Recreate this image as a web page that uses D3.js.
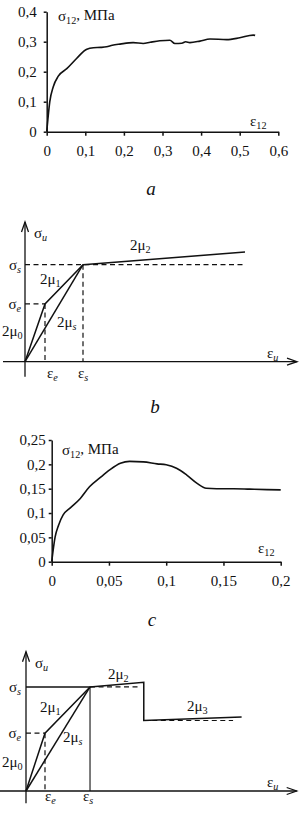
<!DOCTYPE html>
<html>
<head>
<meta charset="utf-8">
<script src="https://cdn.jsdelivr.net/npm/d3@7"></script>
<style>
  body { margin: 0; background: #fff; }
  .axis path, .axis line { stroke: #111; stroke-width: 1.5; }
</style>
</head>
<body>
<svg id="chart" width="307" height="813"></svg>
<script>
const SERIF = "'Liberation Serif', 'Times New Roman', 'DejaVu Serif', serif"

// panel a: shear stress vs shear strain
const aStrain = [0, 0.003, 0.008, 0.017, 0.03, 0.052, 0.078, 0.095, 0.104, 0.121, 0.14, 0.155, 0.17, 0.19, 0.224, 0.25, 0.268, 0.293, 0.319, 0.332, 0.35, 0.36, 0.371, 0.397, 0.423, 0.466, 0.5, 0.535, 0.54]
const aStress = [0, 0.04, 0.1, 0.15, 0.185, 0.21, 0.245, 0.267, 0.275, 0.28, 0.281, 0.283, 0.288, 0.292, 0.297, 0.294, 0.298, 0.303, 0.305, 0.294, 0.295, 0.3, 0.297, 0.302, 0.309, 0.307, 0.313, 0.322, 0.321]
const aTicksX = [0, 0.1, 0.2, 0.3, 0.4, 0.5, 0.6]
const aTicksY = [0, 0.1, 0.2, 0.3, 0.4]

// panel c
const cStrain = [0, 0.003, 0.006, 0.01, 0.016, 0.025, 0.033, 0.042, 0.051, 0.06, 0.068, 0.08, 0.092, 0.1, 0.109, 0.118, 0.127, 0.135, 0.144, 0.159, 0.173, 0.188, 0.2]
const cStress = [0, 0.051, 0.075, 0.096, 0.11, 0.13, 0.154, 0.172, 0.189, 0.202, 0.206, 0.205, 0.201, 0.199, 0.192, 0.178, 0.161, 0.151, 0.15, 0.15, 0.149, 0.148, 0.1475]
const cTicksX = [0, 0.05, 0.1, 0.15, 0.2]
const cTicksY = [0, 0.05, 0.1, 0.15, 0.2, 0.25]

// schematic b (units: eps_e = 1, sigma_e = 1)
const bLoad = [[0, 0], [1, 1], [2.9, 1.68]]
const bSecant = [[0, 0], [2.9, 1.68]]
const bHard = [[2.9, 1.68], [11, 1.9]]
const bMarks = {ee: 1, es: 2.9, se: 1, ss: 1.68, end: 11}

// schematic d
const dLoad = [[0, 0], [1, 1], [3.37, 1.8]]
const dSecant = [[0, 0], [3.37, 1.8]]
const dHard = [[3.37, 1.8], [6.2, 1.88], [6.2, 1.22], [11.35, 1.28]]
const dMarks = {ee: 1, es: 3.37, se: 1, ss: 1.8, drop: 6.2, s3: 1.22, end3: 10.9, end2: 6.05}

const svg = d3.select("#chart").attr("font-family", SERIF)
const comma = d => String(d).replace(".", ",")

function txt(px, py, size) {
  return svg.append("text").attr("x", px).attr("y", py)
    .attr("font-size", size).attr("font-family", SERIF).attr("fill", "#111")
}

function sub(sel, main, s, italicSub) {
  sel.append("tspan").text(main)
  sel.append("tspan")
    .attr("font-size", "0.68em")
    .attr("dy", "0.3em")
    .attr("font-style", italicSub ? "italic" : null)
    .text(s)
}

function curvePanel(xs, ys, tx, ty, xr, yr, ypad) {
  let x = d3.scaleLinear().domain([tx[0], tx[tx.length - 1]]).range(xr)
  let y = d3.scaleLinear().domain([ty[0], ty[ty.length - 1]]).range(yr)
  let gx = svg.append("g").attr("class", "axis")
    .attr("transform", `translate(0,${yr[0]})`)
    .call(d3.axisBottom(x).tickValues(tx).tickSize(4).tickPadding(10).tickFormat(comma).tickSizeOuter(0))
  let gy = svg.append("g").attr("class", "axis")
    .attr("transform", `translate(${xr[0]},0)`)
    .call(d3.axisLeft(y).tickValues(ty).tickSize(3).tickPadding(ypad).tickFormat(comma).tickSizeOuter(0))
  ;[gx, gy].forEach(g => {
    g.attr("font-family", SERIF).attr("font-size", 15)
    g.selectAll("text").attr("fill", "#111").attr("font-family", SERIF)
  })
  let line = d3.line().x((d, i) => x(xs[i])).y((d, i) => y(ys[i])).curve(d3.curveMonotoneX)
  svg.append("path").datum(xs)
    .attr("d", line)
    .attr("fill", "none").attr("stroke", "#111").attr("stroke-width", 1.6)
  return {x, y}
}

// ---- panel a
let A = curvePanel(aStrain, aStress, aTicksX, aTicksY, [46.7, 278.3], [131.7, 11.7], 7)
txt(58, 21, 15).call(t => { sub(t, "σ", "12"); t.append("tspan").attr("dy", "-0.3em").text(", МПа") })
txt(250, 126, 15).call(t => sub(t, "ε", "12"))
txt(151, 195, 19).attr("font-style", "italic").attr("text-anchor", "middle").text("a")

// ---- panel c
let C = curvePanel(cStrain, cStress, cTicksX, cTicksY, [51.7, 280.7], [561.7, 440], 3)
txt(62, 455, 15).call(t => { sub(t, "σ", "12"); t.append("tspan").attr("dy", "-0.3em").text(", МПа") })
txt(258, 553, 15).call(t => sub(t, "ε", "12"))
txt(155, 413, 19).attr("font-style", "italic").attr("text-anchor", "middle").text("b")
txt(152, 626, 19).attr("font-style", "italic").attr("text-anchor", "middle").text("c")

// ---- schematic helpers
function arrows(g, x, y, xmin, xmax, ymin, ymax) {
  let path = d3.line()
  const put = (pts) => g.append("path").attr("d", path(pts))
    .attr("stroke", "#111").attr("stroke-width", 1.3).attr("fill", "none")
  put([[x(xmin), y(0)], [x(xmax), y(0)]])
  put([[x(0), y(ymin)], [x(0), y(ymax)]])
  put([[x(xmax) - 10, y(0) - 3.5], [x(xmax), y(0)], [x(xmax) - 10, y(0) + 3.5]])
  put([[x(0) - 3.5, y(ymax) + 10], [x(0), y(ymax)], [x(0) + 3.5, y(ymax) + 10]])
}

function seg(g, x, y, pts, opts) {
  g.append("path")
    .attr("d", d3.line().x(d => x(d[0])).y(d => y(d[1]))(pts))
    .attr("fill", "none").attr("stroke", "#111")
    .attr("stroke-width", opts.w || 1.5)
    .attr("stroke-dasharray", opts.dash ? "5,3.5" : null)
}

function lab(px, py, main, s, anchor) {
  let t = txt(px, py, 15).attr("text-anchor", anchor || "start")
  sub(t, main, s, isNaN(+s))
}

// ---- schematic b
{
  let g = svg.append("g")
  let x = d3.scaleLinear().domain([0, 13.6]).range([25, 297])
  let y = d3.scaleLinear().domain([0, 2.42]).range([361.7, 222])
  let m = bMarks
  arrows(g, x, y, -1.1, 13.6, -0.26, 2.42)
  seg(g, x, y, [[0, m.ss], [m.end, m.ss]], {dash: true, w: 1.2})
  seg(g, x, y, [[0, m.se], [m.ee, m.se]], {dash: true, w: 1.2})
  seg(g, x, y, [[m.ee, m.se], [m.ee, 0]], {dash: true, w: 1.2})
  seg(g, x, y, [[m.es, m.ss], [m.es, 0]], {dash: true, w: 1.2})
  seg(g, x, y, bLoad, {})
  seg(g, x, y, bSecant, {})
  seg(g, x, y, bHard, {})
  lab(x(0) + 9, y(2.42) + 16, "σ", "u")
  lab(21, y(m.ss) + 5, "σ", "s", "end")
  lab(21, y(m.se) + 5, "σ", "e", "end")
  lab(2, 336, "2μ", "0")
  lab(40, 284, "2μ", "1")
  lab(57, 327, "2μ", "s")
  lab(130, 250, "2μ", "2")
  lab(267, 358, "ε", "u")
  lab(47, 378, "ε", "e")
  lab(78, 378, "ε", "s")
}

// ---- schematic d
{
  let g = svg.append("g")
  let x = d3.scaleLinear().domain([0, 14.25]).range([26, 296.7])
  let y = d3.scaleLinear().domain([0, 2.41]).range([791, 651.7])
  let m = dMarks
  arrows(g, x, y, -1.4, 14.25, -0.21, 2.41)
  seg(g, x, y, [[0, m.ss], [m.es, m.ss]], {w: 1.5})
  seg(g, x, y, [[m.es, m.ss], [m.es, 0]], {w: 1.1})
  seg(g, x, y, [[0, m.se], [m.ee, m.se]], {dash: true, w: 1.2})
  seg(g, x, y, [[m.ee, m.se], [m.ee, 0]], {dash: true, w: 1.2})
  seg(g, x, y, [[m.es, m.ss], [m.end2, m.ss]], {dash: true, w: 1.2})
  seg(g, x, y, [[m.drop, m.s3], [m.end3, m.s3]], {dash: true, w: 1.2})
  seg(g, x, y, dLoad, {})
  seg(g, x, y, dSecant, {})
  seg(g, x, y, dHard, {})
  lab(x(0) + 9, y(2.41) + 16, "σ", "u")
  lab(21, y(m.ss) + 5, "σ", "s", "end")
  lab(21, y(m.se) + 5, "σ", "e", "end")
  lab(2, 767, "2μ", "0")
  lab(40, 712, "2μ", "1")
  lab(63, 742, "2μ", "s")
  lab(108, 679, "2μ", "2")
  lab(187, 711, "2μ", "3")
  lab(267, 787, "ε", "u")
  lab(45, 801, "ε", "e")
  lab(83, 801, "ε", "s")
}
</script>
</body>
</html>
